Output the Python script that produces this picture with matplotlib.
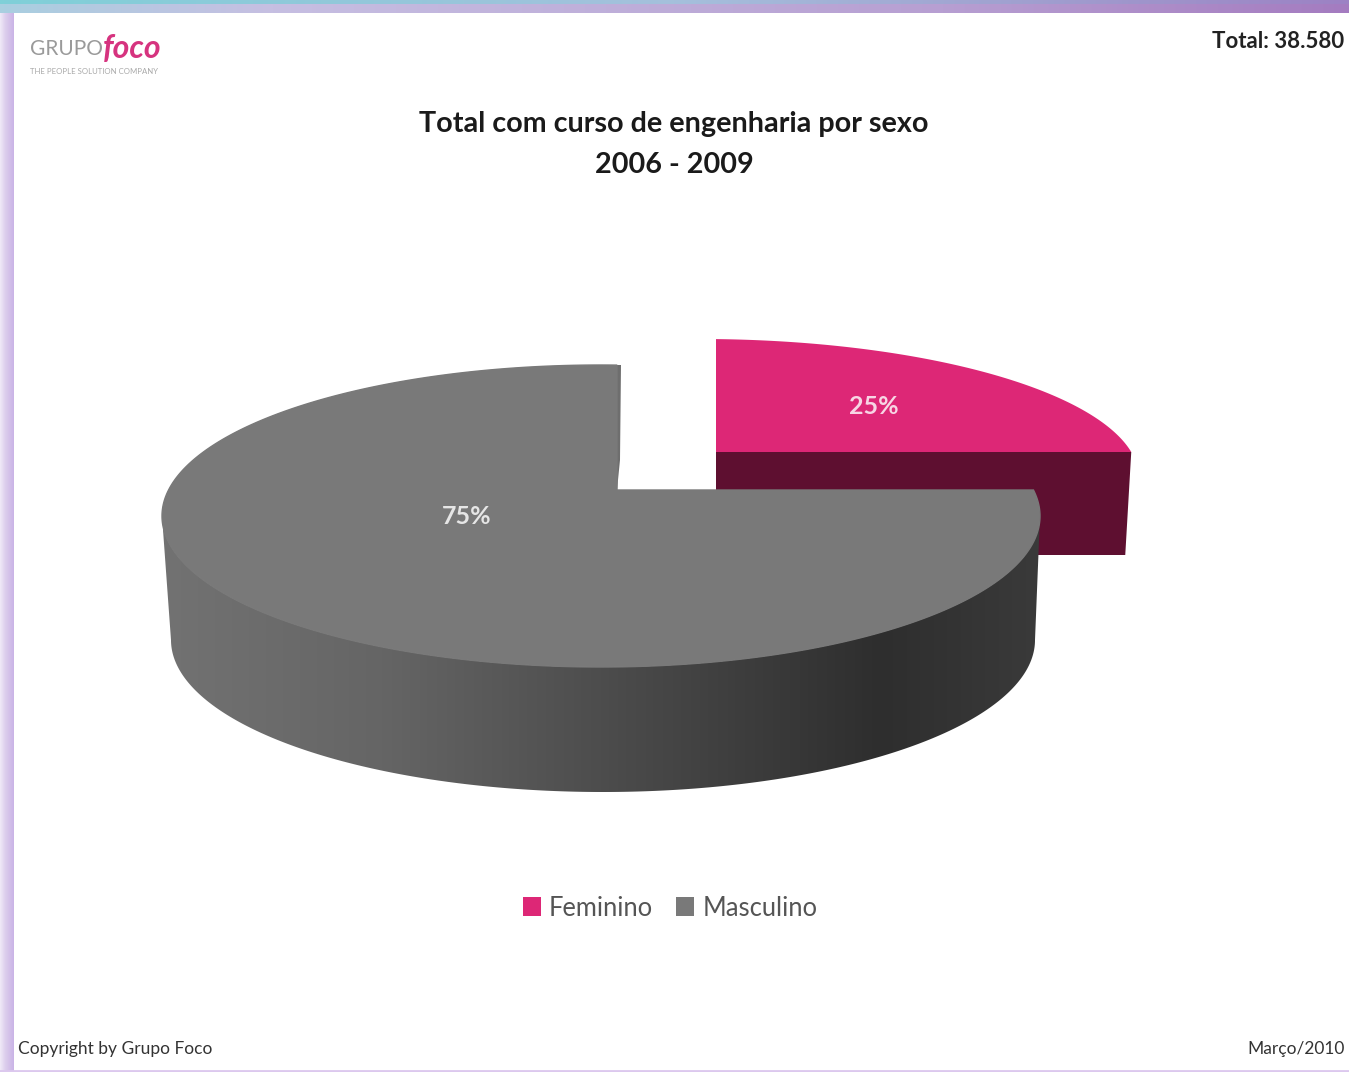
import numpy as np
import matplotlib
matplotlib.use('Agg')
import matplotlib.pyplot as plt
from matplotlib.patches import Polygon, Patch
from matplotlib.colors import LinearSegmentedColormap

plt.rcParams['font.family'] = ['Lato', 'DejaVu Sans']

# Data
categories = ['Feminino', 'Masculino']
shares = [25, 75]
share_labels = ['25%', '75%']
title_lines = ['Total com curso de engenharia por sexo', '2006 - 2009']
total_text = 'Total: 38.580'
footer_left = 'Copyright by Grupo Foco'
footer_right = 'Março/2010'

W, H = 1349, 1072
PINK = '#dd2776'
PINK_DARK = '#5e0f30'
GREY = '#797979'


# Point on an ellipse seen from an apex that is not its centre
def rim(angles, apex, centre, rx, ry):
    px = (apex[0] - centre[0]) / rx
    py = (apex[1] - centre[1]) / ry
    dx = np.cos(angles)
    dy = -np.sin(angles)
    b = px * dx + py * dy
    c = px * px + py * py - 1
    s = -b + np.sqrt(b * b - c)
    return centre[0] + rx * (px + s * dx), centre[1] + ry * (py + s * dy)


def gradient(ax, extent, stops, clip=None, vertical=False, zorder=1):
    cmap = LinearSegmentedColormap.from_list('g', stops)
    g = np.linspace(0, 1, 512)
    g = g.reshape(-1, 1) if vertical else g.reshape(1, -1)
    im = ax.imshow(g, extent=extent, cmap=cmap, aspect='auto', zorder=zorder, vmin=0, vmax=1)
    if clip is not None:
        im.set_clip_path(clip)
    return im


fig = plt.figure(figsize=(W / 100, H / 100), dpi=100, facecolor='white')
ax = fig.add_axes([0, 0, 1, 1])

# Slide frame
gradient(ax, (0, W, 13, 4), [(0, '#a9cfe0'), (0.2, '#c6bfe2'), (0.7, '#b79fd2'), (1, '#a47cc0')], zorder=1)
gradient(ax, (0, W, 4, 0), [(0, '#7fd0d8'), (0.5, '#a5c0dc'), (1, '#9c82c4')], zorder=1)
gradient(ax, (0, 14, H, 13), [(0, '#f0eaf7'), (0.4, '#dccdec'), (1, '#c9b3e6')], zorder=1)
ax.plot([0, W], [1071, 1071], color='#dcc8ee', lw=2, zorder=1)

# Feminino slice, pulled out behind the other one
f_apex = (716, 452)
f_ell = ((700, 478), 439, 139)
f_ang = np.radians(np.linspace(90, 90 - 360 * shares[0] / sum(shares), 200))
fx, fy = rim(f_ang, f_apex, *f_ell)
f_depth = 103
ax.add_patch(Polygon([f_apex, (fx[-1], fy[-1]), (fx[-1] - 6, fy[-1] + f_depth), (f_apex[0], f_apex[1] + f_depth)],
                     closed=True, fc=PINK_DARK, ec='none', zorder=2))
ax.add_patch(Polygon(np.r_[[f_apex], np.c_[fx, fy]], closed=True, fc=PINK, ec='none', zorder=3))

# Masculino slice
m_apex = (617, 490)
m_ell = ((601, 516), 439, 151)
m_ang = np.radians(np.linspace(90, 90 + 360 * shares[1] / sum(shares), 600))
mx, my = rim(m_ang, m_apex, *m_ell)

# outer wall between the top rim and the lower rim
low_c, low_rx, low_ry = (603, 640), 432, 152
t = np.radians(np.linspace(180, 360, 300))
top_x = m_ell[0][0] + m_ell[1] * np.cos(t)
top_y = m_ell[0][1] - m_ell[2] * np.sin(t)
low_x = low_c[0] + low_rx * np.cos(t)
low_y = low_c[1] - low_ry * np.sin(t)
wall = Polygon(np.r_[np.c_[top_x, top_y], np.c_[low_x, low_y][::-1]], closed=True, fc='none', ec='none', zorder=4)
ax.add_patch(wall)
gradient(ax, (163, 1040, 800, 500),
         [(0, '#727272'), (0.25, '#656565'), (0.55, '#484848'), (0.82, '#2e2e2e'), (1, '#3a3a3a')],
         clip=wall, zorder=4)

# inner cut face, barely visible
ax.add_patch(Polygon([(m_apex[0], 365), (m_apex[0] + 4, 365), (m_apex[0] + 3, 460), (m_apex[0], 490)],
                     closed=True, fc='#6e6e6e', ec='none', zorder=4))
ax.add_patch(Polygon(np.r_[[m_apex], np.c_[mx, my]], closed=True, fc=GREY, ec=GREY, lw=1, zorder=5))

ax.text(874, 407, share_labels[0], color='#f7d5e4', fontsize=18, fontweight='bold', ha='center', va='center', zorder=6)
ax.text(467, 516, share_labels[1], color='#e6e6e6', fontsize=18, fontweight='bold', ha='center', va='center', zorder=6)

# Titles and notes
ax.text(674, 124, title_lines[0], color='#1a1a1a', fontsize=20.7, fontweight='bold', ha='center', va='center', zorder=6)
ax.text(674, 165, title_lines[1], color='#1a1a1a', fontsize=20.7, fontweight='bold', ha='center', va='center', zorder=6)
ax.text(1344, 41, total_text, color='#222222', fontsize=16, fontweight='bold', ha='right', va='center', zorder=6)
ax.text(18, 1049, footer_left, color='#333333', fontsize=12.5, ha='left', va='center', zorder=6)
ax.text(1345, 1049, footer_right, color='#333333', fontsize=12.5, ha='right', va='center', zorder=6)

# Logo
ax.text(30, 49, 'GRUPO', color='#9a9a9a', fontsize=15, ha='left', va='center', zorder=6)
ax.text(103, 48, 'foco', color='#d6337f', fontsize=23, fontweight='bold', style='italic', ha='left', va='center', zorder=6)
ax.text(30, 72, 'THE PEOPLE SOLUTION COMPANY', color='#a8a8a8', fontsize=5.6, ha='left', va='center', zorder=6)

# Legend
handles = [Patch(fc=PINK, ec='none'), Patch(fc=GREY, ec='none')]
ax.legend(handles, categories, loc='center', bbox_to_anchor=(670 / W, 1 - 908 / H), ncol=2, frameon=False,
          fontsize=18.4, labelcolor='#555555', handlelength=0.72, handleheight=0.72, handletextpad=0.3, columnspacing=0.9)

ax.set_xlim(0, W)
ax.set_ylim(H, 0)
ax.axis('off')
fig.savefig('out.png', dpi=100)
